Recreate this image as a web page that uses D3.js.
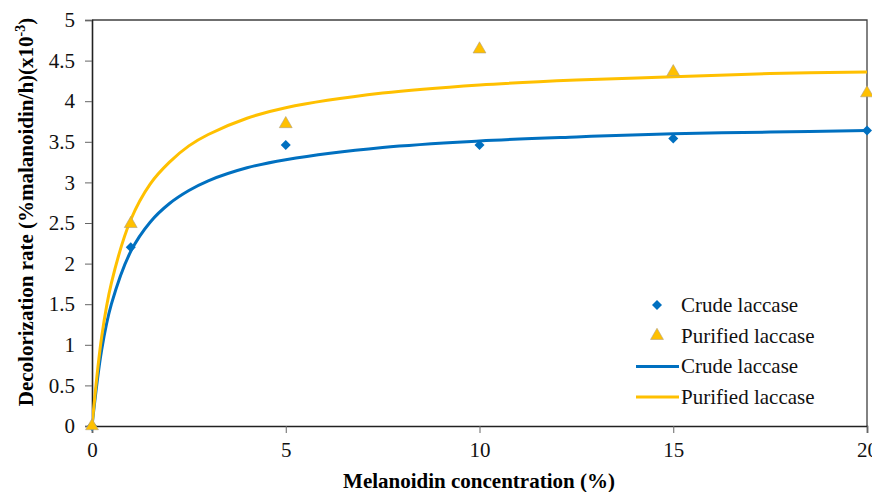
<html>
<head>
    <script type="text/javascript" src="https://cdn.jsdelivr.net/npm/d3@7"></script>
    <style>
        body { margin: 0; background: #fff; }
        svg text { font-family: "Times New Roman", "Liberation Serif", "DejaVu Serif", serif !important; }
    </style>
</head>
<body>
    <div id="viz"></div>
    <script type="text/javascript">

    // measured points
    var concX = [0, 1, 5, 10, 15, 20];
    var crudeVals = [0, 2.2, 3.46, 3.46, 3.54, 3.64];
    var purifiedVals = [0, 2.49, 3.72, 4.64, 4.36, 4.10];

    // fitted curves
    var fitX = [0, 0.25, 0.5, 1, 1.5, 2, 2.5, 3, 4, 5, 7.5, 10, 12.5, 15, 17.5, 20];
    var crudeFit = [0, 0.94, 1.50, 2.15, 2.51, 2.74, 2.90, 3.02, 3.18, 3.28, 3.43, 3.51, 3.56, 3.60, 3.62, 3.64];
    var purifiedFit = [0, 1.10, 1.76, 2.54, 2.98, 3.25, 3.45, 3.59, 3.79, 3.92, 4.10, 4.20, 4.26, 4.30, 4.34, 4.36];

    var xTicks = [0, 5, 10, 15, 20];
    var yTicks = [0, 0.5, 1, 1.5, 2, 2.5, 3, 3.5, 4, 4.5, 5];

    var blue = "#0070C0", gold = "#FFC000";
    var W = 872, H = 492;
    var m = {left: 92, right: 5, top: 20, bottom: 66};
    var serif = "'Times New Roman', 'Liberation Serif', serif";
    var fs = 21;

    var svg = d3.select("#viz")
        .append("svg")
        .attr("width", W)
        .attr("height", H)
        .attr("font-family", serif);

    var x = d3.scaleLinear().domain([0, 20]).range([m.left, W - m.right]);
    var y = d3.scaleLinear().domain([0, 5]).range([H - m.bottom, m.top]);

    svg.append("defs").append("clipPath").attr("id", "plot")
        .append("rect")
        .attr("x", x(0)).attr("y", y(5))
        .attr("width", x(20) - x(0)).attr("height", y(0) - y(5));

    // frame top / right
    svg.append("path")
        .attr("d", "M" + x(0) + "," + y(5) + "H" + x(20) + "V" + y(0))
        .attr("fill", "none")
        .attr("stroke", "#404040")
        .attr("stroke-width", 1.3);

    var xAxis = svg.append("g")
        .attr("transform", "translate(0," + y(0) + ")")
        .call(d3.axisBottom(x).tickValues(xTicks).tickSize(7).tickPadding(9).tickFormat(d3.format("d")));

    var yAxis = svg.append("g")
        .attr("transform", "translate(" + x(0) + ",0)")
        .call(d3.axisLeft(y).tickValues(yTicks).tickSize(7).tickPadding(10).tickFormat(d => d3.format("")(d)));

    [xAxis, yAxis].forEach(function(a) {
        a.attr("font-family", serif).attr("font-size", fs);
        a.select(".domain").attr("stroke", "#222").attr("stroke-width", 1.6);
        a.selectAll(".tick line").attr("stroke", "#666").attr("stroke-width", 1);
        a.selectAll(".tick text")
            .style("font-size", fs + "px")
            .attr("fill", "#111");
    });

    // axis titles
    svg.append("text")
        .attr("x", 479).attr("y", 488)
        .attr("text-anchor", "middle")
        .style("font-size", fs + "px")
        .style("font-weight", "bold")
        .text("Melanoidin concentration (%)");

    var yt = svg.append("text")
        .attr("transform", "translate(33,212) rotate(-90)")
        .attr("text-anchor", "middle")
        .style("font-size", fs + "px")
        .style("font-weight", "bold");
    yt.append("tspan").text("Decolorization rate (%malanoidin/h)(x10");
    yt.append("tspan").attr("dy", -8).style("font-size", "14px").text("-3");
    yt.append("tspan").attr("dy", 8).text(")");

    var plot = svg.append("g").attr("clip-path", "url(#plot)");
    var marks = svg.append("g");

    var diamond = d3.symbol().type(d3.symbolSquare).size(50);
    var tri = d3.symbol().type(d3.symbolTriangle).size(72);

    marks.selectAll(".crude")
        .data(concX.map((d, i) => [d, crudeVals[i]]))
        .enter().append("path")
        .attr("d", diamond)
        .attr("transform", d => "translate(" + x(d[0]) + "," + y(d[1]) + ") rotate(45)")
        .attr("fill", blue);

    marks.selectAll(".purified")
        .data(concX.map((d, i) => [d, purifiedVals[i]]))
        .enter().append("path")
        .attr("d", tri)
        .attr("transform", d => "translate(" + x(d[0]) + "," + y(d[1]) + ")")
        .attr("fill", gold)
        .attr("stroke", "#B0A080")
        .attr("stroke-width", 0.6);

    var line = d3.line()
        .x(d => x(d[0]))
        .y(d => y(d[1]))
        .curve(d3.curveCatmullRom);

    plot.append("path")
        .datum(fitX.map((d, i) => [d, crudeFit[i]]))
        .attr("d", line)
        .attr("fill", "none")
        .attr("stroke", blue)
        .attr("stroke-width", 3);

    plot.append("path")
        .datum(fitX.map((d, i) => [d, purifiedFit[i]]))
        .attr("d", line)
        .attr("fill", "none")
        .attr("stroke", gold)
        .attr("stroke-width", 3);

    // legend
    var legend = svg.append("g");
    var rows = [
        {label: "Crude laccase", kind: "diamond"},
        {label: "Purified laccase", kind: "tri"},
        {label: "Crude laccase", kind: "line", color: blue},
        {label: "Purified laccase", kind: "line", color: gold}
    ];
    rows.forEach(function(r, i) {
        var cy = 305 + i * 30.7;
        if (r.kind == "diamond") {
            legend.append("path").attr("d", diamond)
                .attr("transform", "translate(657," + cy + ") rotate(45)")
                .attr("fill", blue);
        } else if (r.kind == "tri") {
            legend.append("path").attr("d", tri)
                .attr("transform", "translate(657," + cy + ")")
                .attr("fill", gold).attr("stroke", "#B0A080").attr("stroke-width", 0.6);
        } else {
            legend.append("line")
                .attr("x1", 636).attr("x2", 679)
                .attr("y1", cy).attr("y2", cy)
                .attr("stroke", r.color).attr("stroke-width", 3);
        }
        legend.append("text")
            .attr("x", 681).attr("y", cy + 7)
            .style("font-size", fs + "px")
            .attr("fill", "#111")
            .text(r.label);
    });

    </script>
</body>
</html>
